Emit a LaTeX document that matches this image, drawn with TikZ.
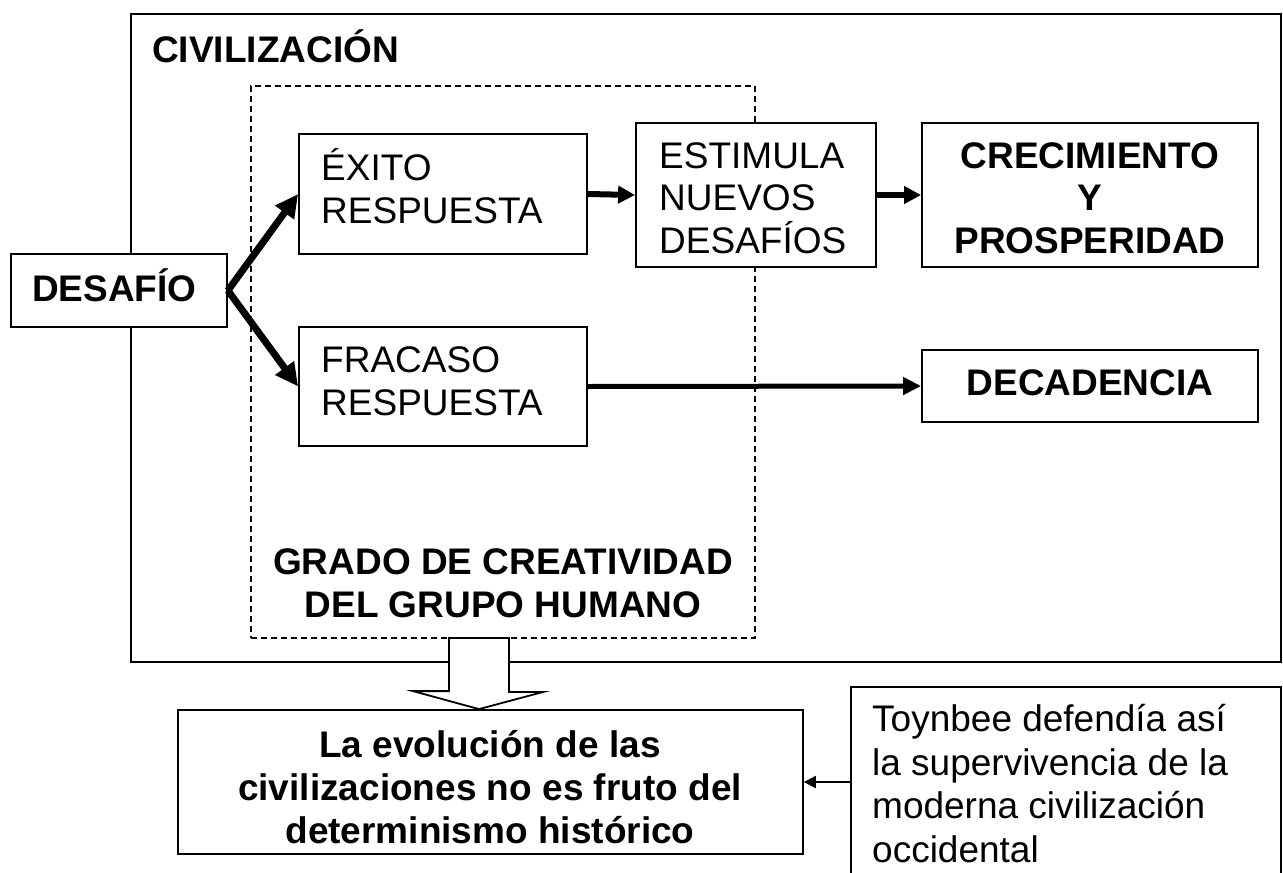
\documentclass[tikz,border=0pt]{standalone}
\usepackage{fontspec}
\setmainfont{Liberation Sans}
\usetikzlibrary{arrows.meta}
\tikzset{
  box/.style={draw, line width=1.8pt, inner sep=0pt, minimum width=#1},
  frame/.style={draw, line width=1.8pt},
  dframe/.style={draw, line width=1.5pt, dash pattern=on 6pt off 4pt},
  rt/.style={anchor=base west, inner sep=0pt, font=\fontsize{37}{42}\selectfont},
  bt/.style={anchor=base west, inner sep=0pt, font=\fontsize{37}{42}\selectfont\bfseries},
  bc/.style={anchor=base, inner sep=0pt, font=\fontsize{37}{42}\selectfont\bfseries},
  bigarr/.style={line width=7pt, -{Triangle[length=23pt,width=22pt]}},
  midarr/.style={line width=6pt, -{Triangle[length=17pt,width=17pt]}},
  longarr/.style={line width=5pt, -{Triangle[length=18pt,width=17pt]}},
  thinarr/.style={line width=2pt, -{Triangle[length=12pt,width=12pt]}},
}
\begin{document}
\begin{tikzpicture}[x=1pt,y=-1pt]
\useasboundingbox (0,0) rectangle (1283,873);
% outer civilization frame and dashed creativity frame
\node[frame, minimum width=1150pt, minimum height=648pt, inner sep=0pt] (civ) at (706,338) {};
\node[dframe, minimum width=504pt, minimum height=552pt, inner sep=0pt] (grado) at (503,362) {};
% boxes
\node[box=216pt, minimum height=73pt, fill=white] (desafio) at (119,290.5) {};
\node[box=288pt, minimum height=120pt, fill=white] (exito) at (443,194) {};
\node[box=288pt, minimum height=119pt, fill=white] (fracaso) at (443,386.5) {};
\node[box=240pt, minimum height=144pt, fill=white] (estimula) at (756,195) {};
\node[box=336pt, minimum height=144pt, fill=white] (crec) at (1090,195) {};
\node[box=336pt, minimum height=72pt, fill=white] (deca) at (1090,386) {};
\node[box=625pt, minimum height=144pt, fill=white] (concl) at (490.5,782) {};
\node[inner sep=0pt, minimum width=430pt, minimum height=186pt] (toy) at (1066,780) {};
\draw[line width=1.8pt] (toy.south west) -- (toy.north west) -- (toy.north east) -- (toy.south east);
% texts
\node[bt] at (152,62) {CIVILIZACIÓN};
\node[bt] at (32,301) {DESAFÍO};
\node[rt] at (321,180) {ÉXITO};
\node[rt] at (321,223) {RESPUESTA};
\node[rt] at (321,372) {FRACASO};
\node[rt] at (321,415) {RESPUESTA};
\node[rt] at (659,168) {ESTIMULA};
\node[rt] at (659,210) {NUEVOS};
\node[rt] at (659,253) {DESAFÍOS};
\node[bc] at (1090,168) {CRECIMIENTO};
\node[bc] at (1090,210) {Y};
\node[bc] at (1090,253) {PROSPERIDAD};
\node[bc] at (1090,395) {DECADENCIA};
\node[bc] at (503,574) {GRADO DE CREATIVIDAD};
\node[bc] at (503,617) {DEL GRUPO HUMANO};
\node[bc] at (490,757) {La evolución de las};
\node[bc] at (490,800) {civilizaciones no es fruto del};
\node[bc] at (490,843) {determinismo histórico};
\node[rt] at (872,731) {Toynbee defendía así};
\node[rt] at (872,775) {la supervivencia de la};
\node[rt] at (872,818) {moderna civilización};
\node[rt] at (872,862) {occidental};
% connectors
\draw[bigarr] (desafio.east) -- (exito.west);
\draw[bigarr] (desafio.east) -- (fracaso.west);
\draw[midarr] (exito.east) -- (estimula.west);
\draw[midarr] (estimula.east) -- (crec.west);
\draw[longarr] (fracaso.east) -- (deca.west);
\draw[thinarr] (toy.west |- concl.east) -- (concl.east);
% hollow arrow from creativity frame to conclusion
\coordinate (ha) at (479,638);
\draw[line width=1.8pt, fill=white, line join=miter]
  (ha) ++(-30,0) -- ++(60,0) -- ++(0,54) -- ++(34,0) -- (concl.north -| ha) -- ++(-66,-18) -- ++(36,0) -- cycle;
\end{tikzpicture}
\end{document}
